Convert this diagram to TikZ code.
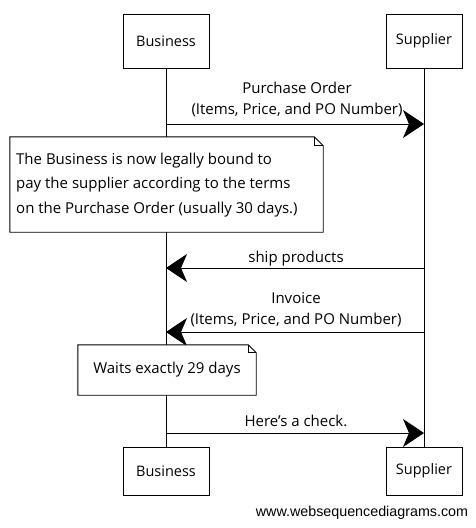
\documentclass[tikz,border=0pt]{standalone}
\usepackage{fontspec}
\setmainfont{Open Sans}
\newfontfamily\wmfont{Liberation Sans}
\usetikzlibrary{arrows.meta}
\tikzset{
  actor/.style={draw, line width=0.9pt, minimum width=86pt, minimum height=54pt, inner sep=0pt, font=\fontsize{14.5}{16}\selectfont},
  lifeline/.style={line width=0.8pt},
  msg/.style={line width=1pt, -{Stealth[length=21pt,width=28pt,inset=6pt]}},
  lbl/.style={font=\fontsize{15}{17}\selectfont, inner sep=0pt},
  notebox/.style={draw=none, inner sep=0pt, align=left},
  notedraw/.style={line width=0.9pt, fill=white}
}
\begin{document}
\begin{tikzpicture}[x=1pt,y=-1pt]
\useasboundingbox (0,0) rectangle (476,528);
% actors
\node[actor] (bizTop) at (166,41) {Business};
\node[actor, minimum width=76pt] (supTop) at (424,41) {Supplier};
\node[actor, minimum height=48pt] (bizBot) at (166,471) {Business};
\node[actor, minimum width=76pt, minimum height=48pt] (supBot) at (424,471) {Supplier};
% lifelines
\draw[lifeline] (bizTop.south) -- (bizBot.north);
\draw[lifeline] (supTop.south) -- (supBot.north);
% message 1
\coordinate (m1b) at (166,124);
\coordinate (m1s) at (424,124);
\draw[msg] (m1b) -- (m1s);
\node[lbl] (m1a) at (297,88) {Purchase Order};
\node[lbl] (m1c) at (297,110) {(Items, Price, and PO Number)};
% note 1
\node[notebox, minimum width=313pt, minimum height=95pt] (n1) at (166.5,184.5) {};
\draw[notedraw] (n1.north west) -- ([xshift=-9pt]n1.north east) -- ([yshift=-9pt]n1.north east) -- (n1.south east) -- (n1.south west) -- cycle;
\draw[line width=0.7pt] ([xshift=-9pt]n1.north east) -- ([xshift=-9pt,yshift=-9pt]n1.north east) -- ([yshift=-9pt]n1.north east);
\node[lbl, align=left, anchor=west, font=\fontsize{15}{24.5}\selectfont] (n1t) at (16,185) {The Business is now legally bound to\\pay the supplier according to the terms\\on the Purchase Order (usually 30 days.)};
% message 2
\coordinate (m2s) at (424,268);
\coordinate (m2b) at (166,268);
\draw[msg] (m2s) -- (m2b);
\node[lbl] (m2a) at (296,259) {ship products};
% message 3
\coordinate (m3s) at (424,332);
\coordinate (m3b) at (166,332);
\draw[msg] (m3s) -- (m3b);
\node[lbl] (m3a) at (296,298) {Invoice};
\node[lbl] (m3c) at (296,320) {(Items, Price, and PO Number)};
% note 2
\node[notebox, minimum width=178pt, minimum height=50pt] (n2) at (167,370) {};
\draw[notedraw] (n2.north west) -- ([xshift=-8pt]n2.north east) -- ([yshift=-8pt]n2.north east) -- (n2.south east) -- (n2.south west) -- cycle;
\draw[line width=0.7pt] ([xshift=-8pt]n2.north east) -- ([xshift=-8pt,yshift=-8pt]n2.north east) -- ([yshift=-8pt]n2.north east);
\node[lbl] (n2t) at (167,370) {Waits exactly 29 days};
% message 4
\coordinate (m4b) at (166,433);
\coordinate (m4s) at (424,433);
\draw[msg] (m4b) -- (m4s);
\node[lbl] (m4a) at (296,421) {Here's a check.};
% watermark
\node[inner sep=0pt, font=\wmfont\fontsize{14.3}{16}\selectfont] (wm) at (362,513) {www.websequencediagrams.com};
\end{tikzpicture}
\end{document}
